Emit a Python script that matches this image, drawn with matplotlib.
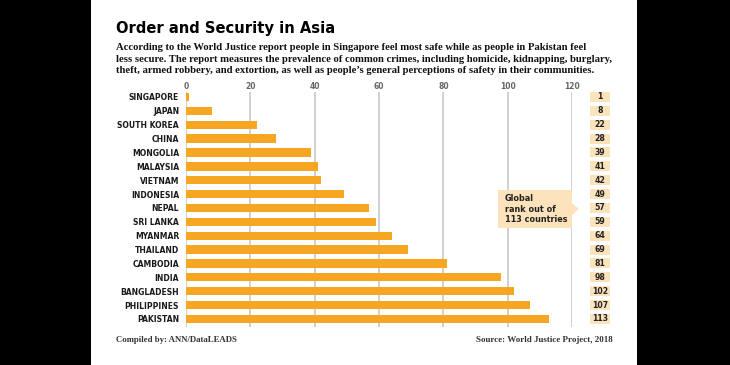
import matplotlib
matplotlib.use("Agg")
import matplotlib.pyplot as plt
import matplotlib.transforms as mtransforms
from matplotlib.patches import Rectangle, Polygon

countries = ["SINGAPORE", "JAPAN", "SOUTH KOREA", "CHINA", "MONGOLIA", "MALAYSIA",
             "VIETNAM", "INDONESIA", "NEPAL", "SRI LANKA", "MYANMAR", "THAILAND",
             "CAMBODIA", "INDIA", "BANGLADESH", "PHILIPPINES", "PAKISTAN"]
ranks = [1, 8, 22, 28, 39, 41, 42, 49, 57, 59, 64, 69, 81, 98, 102, 107, 113]
xticks = [0, 20, 40, 60, 80, 100, 120]

title = "Order and Security in Asia"
subtitle = ("According to the World Justice report people in Singapore feel most safe while as people in Pakistan feel\n"
            "less secure. The report measures the prevalence of common crimes, including homicide, kidnapping, burglary,\n"
            "theft, armed robbery, and extortion, as well as people\u2019s general perceptions of safety in their communities.")

W, H = 730, 365
BAR = "#F6A623"
PEACH = "#FCE3BC"
COND = dict(family=["DejaVu Sans"], fontstretch="condensed", fontweight="bold")
SERIF = ["Liberation Serif", "DejaVu Serif"]

def fx(px):
    return px / W

def fy(py):
    return 1 - py / H

fig = plt.figure(figsize=(7.3, 3.65), dpi=100, facecolor="black")
fig.add_artist(Rectangle((fx(91), 0), fx(637) - fx(91), 1, transform=fig.transFigure,
                         facecolor="white", edgecolor="none", zorder=0))

ax = fig.add_axes([fx(186), fy(327), fx(572) - fx(186), fy(92) - fy(327)])
ax.set_facecolor("none")
ypos = list(range(len(countries)))
ax.barh(ypos, ranks, height=0.6, color=BAR, zorder=3)
ax.set_xlim(0, 120)
ax.set_ylim(16.58, -0.36)
ax.set_xticks(xticks)
ax.set_xticklabels([str(t) for t in xticks], fontsize=6, color="#666666", **COND)
ax.xaxis.tick_top()
ax.tick_params(axis="x", length=0, pad=1)
ax.set_yticks(ypos)
ax.set_yticklabels(countries, fontsize=6.1, color="#1a1a1a", **COND)
ax.tick_params(axis="y", length=0, pad=5)
ax.grid(axis="x", color="#C8C8C8", linewidth=1.2, zorder=1)
for s in ax.spines.values():
    s.set_visible(False)

# rank boxes
blend = mtransforms.blended_transform_factory(fig.transFigure, ax.transData)
for y, r in zip(ypos, ranks):
    ax.add_patch(Rectangle((fx(590), y - 0.36), fx(20), 0.72, transform=blend,
                           facecolor=PEACH, edgecolor="none", clip_on=False))
    ax.text(fx(600), y, str(r), transform=blend, ha="center", va="center",
            fontsize=6.2, color="#222222", clip_on=False, **COND)

# callout
pts = [(498, 190), (572, 190), (572, 203), (579, 209), (572, 215), (572, 228), (498, 228)]
fig.add_artist(Polygon([(fx(x), fy(y)) for x, y in pts], closed=True, transform=fig.transFigure,
                       facecolor=PEACH, edgecolor="none", zorder=4))
fig.text(fx(505), fy(209), "Global\nrank out of\n113 countries", ha="left", va="center",
         fontsize=6.5, color="#222222", linespacing=1.25, zorder=5, **COND)

# titles
fig.text(fx(116), fy(29), title, ha="left", va="center", family=["DejaVu Sans"],
         fontstretch="condensed", fontweight="heavy", fontsize=11.8, color="black")
fig.text(fx(116), fy(59), subtitle, ha="left", va="center", family=SERIF, fontweight="bold",
         fontsize=7.7, color="#111111", linespacing=1.3)

fig.text(fx(116), fy(340), "Compiled by: ANN/DataLEADS", ha="left", va="center",
         family=SERIF, fontweight="bold", fontsize=6.3, color="#333333")
fig.text(fx(613), fy(340), "Source: World Justice Project, 2018", ha="right", va="center",
         family=SERIF, fontweight="bold", fontsize=6.5, color="#333333")

fig.savefig("out.png", dpi=100, facecolor=fig.get_facecolor())
